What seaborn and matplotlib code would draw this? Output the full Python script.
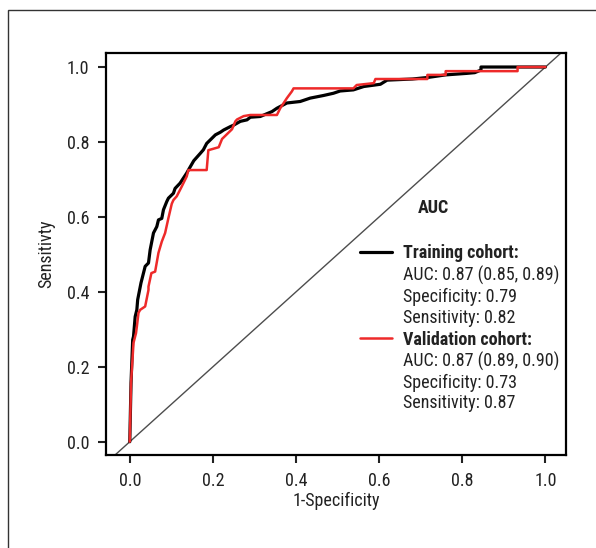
import matplotlib
matplotlib.use("Agg")
import matplotlib.pyplot as plt
import matplotlib.patches as mpatches
import seaborn as sns
from matplotlib import font_manager

# ROC points (1-specificity, sensitivity)
train_fpr = [0, 0.003, 0.007, 0.009, 0.013, 0.017, 0.019, 0.027, 0.035, 0.037, 0.045,
             0.049, 0.057, 0.065, 0.069, 0.077, 0.081, 0.089, 0.093, 0.105, 0.109, 0.121,
             0.137, 0.141, 0.154, 0.17, 0.177, 0.185, 0.206, 0.218, 0.226, 0.242, 0.25,
             0.266, 0.282, 0.29, 0.314, 0.342, 0.354, 0.378, 0.41, 0.434, 0.466, 0.49,
             0.506, 0.538, 0.563, 0.603, 0.619, 0.68, 0.716, 0.76, 0.81, 0.83, 0.845,
             0.845, 0.93, 1.0]
train_tpr = [0, 0.157, 0.272, 0.281, 0.334, 0.352, 0.379, 0.424, 0.459, 0.468, 0.477,
             0.512, 0.557, 0.574, 0.592, 0.596, 0.619, 0.641, 0.65, 0.663, 0.676, 0.69,
             0.717, 0.725, 0.75, 0.77, 0.779, 0.796, 0.819, 0.826, 0.832, 0.841, 0.845,
             0.855, 0.859, 0.866, 0.868, 0.881, 0.89, 0.904, 0.908, 0.917, 0.924, 0.93,
             0.936, 0.939, 0.948, 0.954, 0.965, 0.968, 0.972, 0.979, 0.983, 0.985, 0.992,
             1.0, 1.0, 1.0]

valid_fpr = [0, 0.003, 0.009, 0.015, 0.017, 0.021, 0.025, 0.037, 0.045, 0.045, 0.052,
             0.061, 0.069, 0.077, 0.085, 0.093, 0.101, 0.105, 0.113, 0.125, 0.129, 0.137,
             0.141, 0.185, 0.189, 0.214, 0.222, 0.234, 0.246, 0.254, 0.258, 0.274, 0.29,
             0.354, 0.362, 0.378, 0.39, 0.394, 0.538, 0.546, 0.587, 0.591, 0.716, 0.716,
             0.76, 0.76, 0.933, 0.933, 1.0]
valid_tpr = [0, 0.157, 0.264, 0.29, 0.307, 0.344, 0.352, 0.361, 0.405, 0.414, 0.45,
             0.454, 0.504, 0.534, 0.557, 0.597, 0.635, 0.645, 0.655, 0.681, 0.69, 0.708,
             0.725, 0.725, 0.778, 0.786, 0.808, 0.821, 0.834, 0.855, 0.86, 0.869, 0.872,
             0.872, 0.89, 0.917, 0.935, 0.943, 0.943, 0.952, 0.957, 0.968, 0.968, 0.979,
             0.979, 0.989, 0.989, 1.0, 1.0]

legend_title = "AUC"
train_lines = ["Training cohort:", "AUC: 0.87 (0.85, 0.89)", "Specificity: 0.79", "Sensitivity: 0.82"]
valid_lines = ["Validation cohort:", "AUC: 0.87 (0.89, 0.90)", "Specificity: 0.73", "Sensitivity: 0.87"]
ticks = [0.0, 0.2, 0.4, 0.6, 0.8, 1.0]

sns.set_style("ticks")
names = {f.name for f in font_manager.fontManager.ttflist}
fam = [n for n in ["Liberation Sans Narrow", "Roboto Condensed", "DejaVu Sans Condensed"] if n in names]
plt.rcParams["font.family"] = fam + ["DejaVu Sans"]
plt.rcParams["font.size"] = 13

fig = plt.figure(figsize=(5.96, 5.48), dpi=100)
ax = fig.add_axes([0.178, 0.170, 0.772, 0.733])

ax.axline((0, 0), (1, 1), color="#4d4d4d", lw=1.0, zorder=1)
sns.lineplot(x=train_fpr, y=train_tpr, sort=False, estimator=None, color="black", lw=2.3, ax=ax, zorder=2)
sns.lineplot(x=valid_fpr, y=valid_tpr, sort=False, estimator=None, color="#ee2a2a", lw=1.8, ax=ax, zorder=3)

ax.set_xlim(-0.057, 1.05)
ax.set_ylim(-0.035, 1.037)
ax.set_xticks(ticks)
ax.set_yticks(ticks)
ax.set_xticklabels([f"{t:.1f}" for t in ticks])
ax.set_yticklabels([f"{t:.1f}" for t in ticks])
ax.tick_params(direction="out", length=6, width=1.5, labelsize=13, pad=6, colors="#222222")
for s in ax.spines.values():
    s.set_visible(True)
    s.set_linewidth(1.6)
    s.set_color("black")
ax.set_xlabel("1-Specificity", fontsize=13, labelpad=2, color="#222222")
ax.set_ylabel("Sensitivty", fontsize=13, labelpad=8, color="#222222")

# legend block
ax.text(0.694, 0.624, legend_title, fontsize=13, fontweight="bold", va="center", ha="left", color="#222222")
ys = [0.504, 0.445, 0.387, 0.331, 0.272, 0.213, 0.157, 0.104]
for i, t in enumerate(train_lines + valid_lines):
    ax.text(0.658, ys[i], t, fontsize=13, va="center", ha="left", color="#222222",
            fontweight="bold" if i in (0, 4) else "normal")
ax.plot([0.555, 0.632], [0.507, 0.507], color="black", lw=2.3)
ax.plot([0.555, 0.632], [0.277, 0.277], color="#ee2a2a", lw=1.8)

# outer frame (right and bottom edges fall outside the picture)
frame = mpatches.Rectangle((8 / 596, -0.2), 1.2, 1.2 - 10 / 548, transform=fig.transFigure,
                           fill=False, edgecolor="#333333", lw=1.0, clip_on=False)
fig.patches.append(frame)

fig.savefig("out.png", dpi=100)
